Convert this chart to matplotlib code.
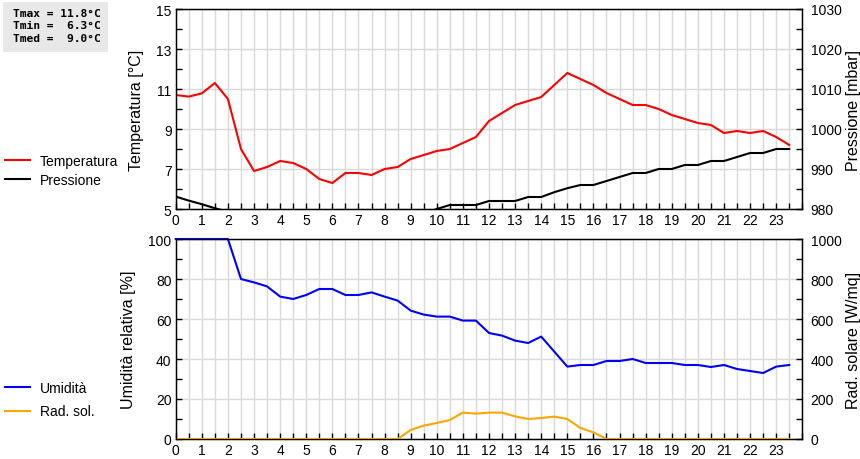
import numpy as np
import matplotlib
matplotlib.use("Agg")
import matplotlib.pyplot as plt
from matplotlib.lines import Line2D
from matplotlib.patches import Rectangle
from matplotlib.ticker import MultipleLocator

plt.rcParams['font.family'] = ['Liberation Sans', 'DejaVu Sans']

hours = np.arange(0, 24, 0.5)
hour_labels = [str(h) for h in range(24)]

temperature = [10.7, 10.62, 10.78, 11.3, 10.5, 8.0, 6.9, 7.1, 7.4, 7.3, 7.0, 6.5,
               6.3, 6.8, 6.8, 6.7, 7.0, 7.1, 7.5, 7.7, 7.9, 8.0, 8.3, 8.6,
               9.4, 9.8, 10.2, 10.4, 10.6, 11.2, 11.8, 11.5, 11.2, 10.8, 10.5, 10.2,
               10.2, 10.0, 9.7, 9.5, 9.3, 9.2, 8.8, 8.9, 8.8, 8.9, 8.6, 8.2]
pressure = [983.1, 982.1, 981.2, 980.2, 979.3, 978.6, 978.0, 977.5, 977.2, 977.0, 977.0, 977.0,
            977.0, 977.0, 977.2, 977.4, 977.6, 978.0, 978.3, 978.7, 980.0, 981.0, 981.0, 981.0,
            982.0, 982.0, 982.0, 983.0, 983.0, 984.2, 985.2, 986.0, 986.0, 987.0, 988.0, 989.0,
            989.0, 990.0, 990.0, 991.0, 991.0, 992.0, 992.0, 993.0, 994.0, 994.0, 995.0, 995.0]
humidity = [100, 100, 100, 100, 100, 80, 78.3, 76.3, 71.2, 70, 72, 75,
            75, 72, 72, 73.3, 71.2, 69.2, 64.2, 62.2, 61.2, 61.2, 59.2, 59.2,
            53, 51.7, 49.2, 48, 51.2, 43.7, 36.2, 37, 37, 39, 39, 40,
            38, 38, 38, 37, 37, 36, 37, 35, 34, 33, 36.2, 37]
radiation = [0, 0, 0, 0, 0, 0, 0, 0, 0, 0, 0, 0,
             0, 0, 0, 0, 0, 0, 45, 67, 80, 95, 132, 127,
             132, 132, 113, 100, 105, 112, 100, 55, 33, 0, 0, 0,
             0, 0, 0, 0, 0, 0, 0, 0, 0, 0, 0, 0]

temp_ticks = [5, 7, 9, 11, 13, 15]
stats_lines = ["Tmax = 11.8°C", "Tmin =  6.3°C", "Tmed =  9.0°C"]

W, H = 860, 460
fig = plt.figure(figsize=(8.6, 4.6), dpi=100)

left = 175.7 / W
width = (802.3 - 175.7) / W
ax_h = 200 / H
ax1 = fig.add_axes([left, 1 - 210 / H, width, ax_h])
ax2 = fig.add_axes([left, 1 - 440 / H, width, ax_h])

grid_c = '#d9d9d9'
tick_fs = 10
label_fs = 11.5

def style_axes(ax, ymin, ymax, yticks, ymin_step):
    ax.set_xlim(0, 24)
    ax.set_ylim(ymin, ymax)
    ax.set_xticks(range(24))
    ax.set_xticklabels(hour_labels)
    ax.xaxis.set_minor_locator(MultipleLocator(0.5))
    ax.set_yticks(yticks)
    ax.yaxis.set_minor_locator(MultipleLocator(ymin_step))
    ax.grid(True, which='both', axis='x', color=grid_c, lw=1.0)
    ax.grid(True, which='major', axis='y', color=grid_c, lw=1.0)
    ax.set_axisbelow(True)
    ax.tick_params(axis='both', which='both', direction='in', length=4, width=1,
                   labelsize=tick_fs, top=False, right=False, pad=3)
    for s in ax.spines.values():
        s.set_linewidth(1.0)

def style_twin(tw, ymin, ymax, ymaj, ymin_step):
    tw.set_ylim(ymin, ymax)
    tw.yaxis.set_major_locator(MultipleLocator(ymaj))
    tw.yaxis.set_minor_locator(MultipleLocator(ymin_step))
    tw.tick_params(axis='y', which='both', direction='in', length=4, width=1,
                   labelsize=tick_fs, pad=6)

style_axes(ax1, 5, 15, temp_ticks, 1)
ax1.plot(hours, temperature, color='#ff0000', lw=1.5)
ax1.set_ylabel('Temperatura [°C]', fontsize=label_fs, labelpad=9)
tw1 = ax1.twinx()
style_twin(tw1, 980, 1030, 10, 5)
tw1.plot(hours, pressure, color='black', lw=1.5)
tw1.set_ylabel('Pressione [mbar]', fontsize=label_fs, labelpad=3)

style_axes(ax2, 0, 100, [0, 20, 40, 60, 80, 100], 10)
ax2.plot(hours, humidity, color='#0000ff', lw=1.5, clip_on=False, zorder=3)
ax2.set_ylabel('Umidità relativa [%]', fontsize=label_fs, labelpad=9)
tw2 = ax2.twinx()
style_twin(tw2, 0, 1000, 200, 100)
tw2.plot(hours, radiation, color='#ffa500', lw=1.5, clip_on=False)
tw2.set_ylabel('Rad. solare [W/mq]', fontsize=label_fs, labelpad=3)

# legends
h1 = [Line2D([], [], color='#ff0000', lw=1.5), Line2D([], [], color='black', lw=1.5)]
fig.legend(h1, ['Temperatura', 'Pressione'], loc='upper left',
           bbox_to_anchor=(5 / W, 1 - 155 / H), frameon=False, fontsize=10,
           borderpad=0, borderaxespad=0, handlelength=1.8, handletextpad=0.72,
           labelspacing=0.36)
h2 = [Line2D([], [], color='#0000ff', lw=1.5), Line2D([], [], color='#ffa500', lw=1.5)]
fig.legend(h2, ['Umidità', 'Rad. sol.'], loc='upper left',
           bbox_to_anchor=(5 / W, 1 - 382 / H), frameon=False, fontsize=10,
           borderpad=0, borderaxespad=0, handlelength=1.8, handletextpad=0.72,
           labelspacing=0.68)

# stats box
fig.patches.append(Rectangle((3 / W, 1 - 53 / H), 105 / W, 50 / H,
                             transform=fig.transFigure, facecolor='#e8e8e8',
                             edgecolor='none'))
fig.text(13 / W, 1 - 9 / H, "\n".join(stats_lines), family='DejaVu Sans Mono',
         weight='bold', fontsize=8.1, va='top', ha='left', linespacing=1.3)

fig.savefig('out.png', dpi=100)
